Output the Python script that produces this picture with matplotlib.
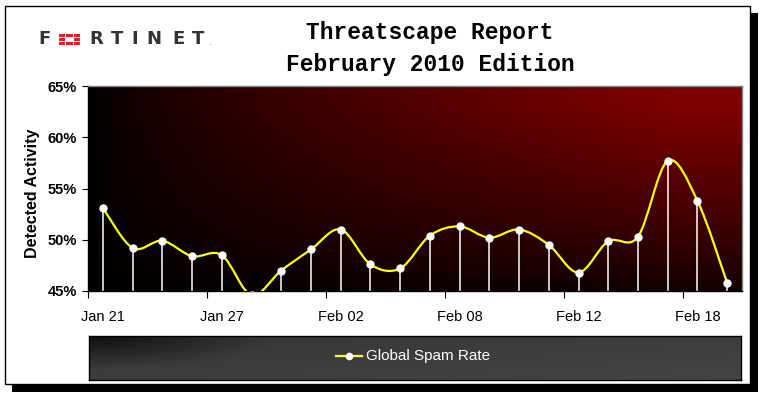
import numpy as np
import matplotlib
matplotlib.use("Agg")
import matplotlib.pyplot as plt
from matplotlib.patches import Rectangle, PathPatch
from matplotlib.path import Path
from matplotlib.lines import Line2D

# ---------------- data ----------------
dates = ["Jan 21", "Jan 22", "Jan 25", "Jan 26", "Jan 27", "Jan 28", "Jan 29",
         "Feb 01", "Feb 02", "Feb 03", "Feb 04", "Feb 05", "Feb 08", "Feb 09",
         "Feb 10", "Feb 11", "Feb 12", "Feb 15", "Feb 16", "Feb 17", "Feb 18",
         "Feb 19"]
spam_rate = [53.1, 49.2, 49.9, 48.4, 48.5, 44.6, 47.0, 49.05, 51.0, 47.6, 47.2,
             50.4, 51.3, 50.2, 51.0, 49.5, 46.8, 49.85, 50.3, 57.7, 53.8, 45.8]
tick_labels = ["Jan 21", "Jan 27", "Feb 02", "Feb 08", "Feb 12", "Feb 18"]
y_ticks = [45, 50, 55, 60, 65]
series_name = "Global Spam Rate"
title_lines = ["Threatscape Report", "February 2010 Edition"]
y_label = "Detected Activity"

W, H = 760, 399
fig = plt.figure(figsize=(W / 100, H / 100), dpi=100)
fig.patch.set_facecolor("white")

# background / frame axes in pixel coords
bg = fig.add_axes([0, 0, 1, 1], zorder=0)
bg.set_xlim(0, W)
bg.set_ylim(H, 0)
bg.axis("off")
bg.add_patch(Rectangle((12, 13), 746, 379, facecolor="black", edgecolor="none"))
bg.add_patch(Rectangle((5, 6), 745, 378, facecolor="white", edgecolor="black", lw=1))

# title
mono = ["Liberation Mono", "DejaVu Sans Mono"]
bg.text(430, 32, title_lines[0], family=mono, fontweight="bold", fontsize=16.5,
        ha="center", va="center", color="black")
bg.text(430, 64, title_lines[1], family=mono, fontweight="bold", fontsize=16.5,
        ha="center", va="center", color="black")

# logo
logo_letters = [("F", 45), ("R", 96), ("T", 117.5), ("I", 135), ("N", 154),
                ("E", 179), ("T", 198.5)]
for ch, cx in logo_letters:
    bg.text(cx, 39.5, ch, family="DejaVu Sans", fontsize=13, fontweight="bold",
            ha="center", va="center", color="#333333")
bg.text(210, 45, ".", family="DejaVu Sans", fontsize=7, ha="center", va="baseline",
        color="#888888")
gx0, gy0 = 59, 33.5
cw, chh, gap = 6.3, 3.3, 1.0
for r in range(3):
    for c in range(3):
        if r == 1 and c == 1:
            continue
        bg.add_patch(Rectangle((gx0 + c * (cw + gap), gy0 + r * (chh + gap)), cw, chh,
                               facecolor="#e0202a", edgecolor="none"))

# ---------------- main chart ----------------
L, R, T, B = 88, 742, 86, 291
ax = fig.add_axes([L / W, 1 - B / H, (R - L) / W, (B - T) / H], zorder=2)
n = len(spam_rate)
x = np.arange(n)
y = np.array(spam_rate)
ax.set_xlim(-0.5, n - 0.5)
ax.set_ylim(45, 65)

# gradient background (black at left/bottom -> dark red at top right)
nx, ny = 400, 200
gx = np.linspace(0, 1, nx)[None, :]
gy = np.linspace(0, 1, ny)[:, None]  # 0 bottom -> 1 top
hfac = np.minimum(1, gx / 0.9) ** 0.75
vfac = np.minimum(1, 0.12 + 0.88 * (gy / 0.92) ** 0.85)
red = 0.50 * hfac * vfac
img = np.zeros((ny, nx, 3))
img[..., 0] = red
ax.imshow(img, extent=(-0.5, n - 0.5, 45, 65), origin="lower", aspect="auto",
          interpolation="bilinear", zorder=0)

# drop lines
ax.vlines(x, 45, y, color="white", lw=1.1, zorder=2)

# smooth line (Catmull-Rom style bezier through data)
pts = np.column_stack([x, y]).astype(float)
verts = [tuple(pts[0])]
codes = [Path.MOVETO]
for i in range(n - 1):
    p0 = pts[i - 1] if i > 0 else pts[i]
    p1 = pts[i]
    p2 = pts[i + 1]
    p3 = pts[i + 2] if i + 2 < n else pts[i + 1]
    c1 = p1 + (p2 - p0) / 6.0
    c2 = p2 - (p3 - p1) / 6.0
    verts += [tuple(c1), tuple(c2), tuple(p2)]
    codes += [Path.CURVE4] * 3
ax.add_patch(PathPatch(Path(verts, codes), facecolor="none", edgecolor="#ffff00",
                       lw=1.6, zorder=3, capstyle="round", joinstyle="round"))
ax.plot(x, y, "o", color="white", ms=5, mec="white", zorder=4)

# axes styling
for s in ["top", "right"]:
    ax.spines[s].set_color("#808080")
    ax.spines[s].set_linewidth(1)
for s in ["left", "bottom"]:
    ax.spines[s].set_color("black")
    ax.spines[s].set_linewidth(1)

ax.set_yticks(y_ticks)
ax.set_yticklabels([f"{v}%" for v in y_ticks], fontweight="bold", fontsize=10.5,
                   family="Liberation Sans")
ax.tick_params(axis="y", direction="out", length=4, pad=4, color="black")

major_pos = [i - 0.5 for i in range(0, n + 1, 4)]
ax.set_xticks(major_pos)
ax.set_xticklabels([""] * len(major_pos))
label_pos = [dates.index(tl) for tl in tick_labels]
ax.set_xticks(label_pos, minor=True)
ax.set_xticklabels(tick_labels, minor=True, fontsize=10.5, family="Liberation Sans")
ax.tick_params(axis="x", which="major", direction="out", length=5, color="black")
ax.tick_params(axis="x", which="minor", length=0, pad=14)

fig.text(32 / W, 1 - 193 / H, y_label, rotation=90, ha="center", va="center",
         fontweight="bold", fontsize=11.5, family="Liberation Sans")

# ---------------- legend box ----------------
lx0, lx1, ly0, ly1 = 89, 741, 336, 380
lax = fig.add_axes([lx0 / W, 1 - ly1 / H, (lx1 - lx0) / W, (ly1 - ly0) / H], zorder=3)
lax.set_xlim(lx0, lx1)
lax.set_ylim(ly1, ly0)
lgx = np.linspace(0, 1, 400)[None, :]
lgy = np.linspace(0, 1, 60)[:, None]  # 0 top -> 1 bottom
dark = np.clip(1 - np.sqrt((lgx / 0.28) ** 2 + (lgy / 0.75) ** 2), 0, 1)
shade = 0.21 + 0.03 * lgx + 0.03 * lgy - 0.15 * dark
shade = np.clip(shade, 0, 1)
limg = np.dstack([shade, shade, shade])
lax.imshow(limg, extent=(lx0, lx1, ly1, ly0), aspect="auto", interpolation="bilinear",
           zorder=0)
lax.set_xticks([])
lax.set_yticks([])
for s in lax.spines.values():
    s.set_color("black")
    s.set_linewidth(1)
lax.add_line(Line2D([336, 362], [356, 356], color="#ffff00", lw=1.6, zorder=2))
lax.plot([349], [356], "o", color="white", ms=4.5, zorder=3)
lax.text(366, 356, series_name, color="white", fontsize=11, ha="left", va="center",
         family="Liberation Sans")

fig.savefig("out.png", dpi=100)
